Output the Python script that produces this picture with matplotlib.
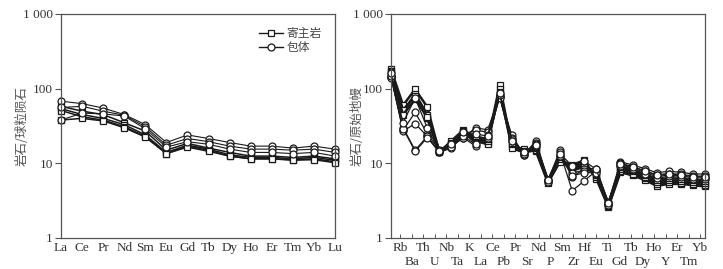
import matplotlib
matplotlib.use("Agg")
import matplotlib.pyplot as plt
import matplotlib.transforms as mtransforms
import numpy as np

# ---------------- data ----------------
ree = ["La", "Ce", "Pr", "Nd", "Sm", "Eu", "Gd", "Tb", "Dy", "Ho", "Er", "Tm", "Yb", "Lu"]

ree_host = [
    [58, 50, 45, 35, 27, 15.0, 18.5, 16.0, 14.0, 12.5, 12.5, 12.0, 12.5, 11.5],
    [54, 45, 40, 33, 24, 14.0, 17.5, 15.5, 13.0, 12.0, 12.0, 11.5, 12.0, 11.0],
    [51, 42, 38, 31, 23, 13.5, 17.0, 15.0, 12.5, 11.5, 11.5, 11.2, 11.5, 10.5],
    [38, 40, 37, 30, 22.5, 13.5, 16.5, 14.5, 12.5, 11.5, 11.5, 11.0, 11.2, 10.2],
]
ree_incl = [
    [68, 63, 55, 45, 33, 19.0, 24.0, 21.5, 19.0, 17.0, 17.0, 16.0, 17.0, 15.5],
    [56, 58, 50, 44, 31, 17.5, 21.5, 19.5, 17.0, 15.5, 15.5, 15.0, 15.5, 14.0],
    [38, 47, 46, 43, 29, 16.5, 19.5, 18.0, 15.5, 14.0, 14.0, 13.5, 14.0, 12.5],
]

spider = ["Rb", "Ba", "Th", "U", "Nb", "Ta", "K", "La", "Ce", "Pb", "Pr", "Sr", "Nd", "P",
          "Sm", "Zr", "Hf", "Eu", "Ti", "Gd", "Tb", "Dy", "Ho", "Y", "Er", "Tm", "Yb"]

spider_host = [
    [182, 60, 98, 57, 14.0, 20, 28, 22, 19, 112, 17, 15.5, 14.5, 5.5, 11.0, 9.5, 11.0, 6.2, 2.6, 7.6, 6.9, 6.0, 5.0, 5.3, 5.3, 5.1, 4.9],
    [175, 48, 85, 45, 14.5, 19, 27, 20, 18, 100, 16, 14.0, 15.0, 5.6, 10.5, 9.0, 10.0, 6.5, 2.7, 8.0, 7.3, 6.3, 5.3, 5.6, 5.5, 5.3, 5.1],
    [165, 52, 80, 40, 14.0, 18, 26, 19, 20, 90, 18, 14.5, 16.0, 5.8, 11.5, 8.5, 9.5, 7.0, 2.8, 8.5, 7.8, 6.6, 5.6, 5.9, 5.8, 5.6, 5.4],
    [155, 45, 72, 42, 15.0, 17, 25, 23, 21, 85, 19, 13.5, 16.5, 6.0, 12.0, 8.0, 9.0, 7.3, 2.9, 9.0, 8.2, 7.0, 6.0, 6.3, 6.2, 5.9, 5.8],
]
spider_incl = [
    [150, 28, 48, 25, 15.0, 17, 22, 30, 28, 80, 24, 13.0, 20.0, 6.0, 15.0, 6.5, 8.5, 8.5, 3.0, 10.5, 9.5, 8.5, 7.5, 7.8, 7.6, 7.2, 7.2],
    [145, 27, 34, 23, 14.0, 16, 24, 28, 26, 78, 22, 13.0, 19.0, 5.9, 14.0, 4.3, 5.8, 8.0, 2.9, 10.0, 9.0, 8.0, 7.0, 7.3, 7.1, 6.8, 6.7],
    [140, 30, 15, 23, 14.0, 17, 22, 17, 24, 75, 21, 14.0, 18.0, 5.8, 13.0, 7.5, 8.0, 7.8, 2.8, 9.6, 8.7, 7.6, 6.6, 7.0, 6.8, 6.4, 6.4],
    [148, 29, 14.5, 22, 14.5, 16.5, 23, 18, 22, 82, 20, 13.5, 17.0, 5.7, 12.5, 6.8, 7.5, 7.5, 2.75, 9.2, 8.4, 7.3, 6.3, 6.7, 6.5, 6.1, 6.1],
    [160, 35, 75, 30, 14.5, 18, 26, 25, 23, 88, 20, 14.0, 17.5, 5.9, 13.5, 9.2, 10.7, 8.3, 2.9, 9.8, 9.0, 7.9, 6.9, 7.2, 7.0, 6.6, 6.6],
]

ylabels = ["1", "10", "100", "1 000"]
yticks = [1, 10, 100, 1000]

# ---------------- style ----------------
serif = "Liberation Serif"
cjk = ["Noto Sans CJK SC", "DejaVu Sans"]
txt_col = "#333333"
line_col = "#1a1a1a"
spine_col = "#555555"

fig = plt.figure(figsize=(7.23, 2.69), dpi=100)
ax1 = fig.add_axes([61 / 723, 31 / 269, 274 / 723, 224 / 269])
ax2 = fig.add_axes([391 / 723, 31 / 269, 314 / 723, 224 / 269])

def style_axis(ax, ylabel, labx):
    ax.set_yscale("log")
    ax.set_ylim(1, 1000)
    ax.set_yticks(yticks)
    ax.set_yticklabels(ylabels, fontfamily=serif, fontsize=9.5, color=txt_col)
    ax.yaxis.set_minor_locator(matplotlib.ticker.NullLocator())
    ax.tick_params(axis="y", direction="out", length=4, width=0.8, color=spine_col, pad=2)
    for s in ax.spines.values():
        s.set_color(spine_col)
        s.set_linewidth(0.9)
    ax.set_ylabel(ylabel, family=cjk, fontsize=9, color="#555555")
    ax.yaxis.set_label_coords(labx, 0.5)

mk = dict(markerfacecolor="white", markeredgecolor=line_col, markersize=5, markeredgewidth=0.9)

# left panel: chondrite normalised REE
x1 = np.arange(len(ree))
for row in ree_host:
    ax1.plot(x1, row, color=line_col, lw=1.1, marker="s", clip_on=False, **mk)
for row in ree_incl:
    ax1.plot(x1, row, color=line_col, lw=0.8, marker="o", clip_on=False, **mk)
ax1.set_xlim(0, len(ree) - 1)
ax1.set_xticks(x1)
ax1.set_xticklabels(ree, fontfamily=serif, fontsize=9.5, color=txt_col)
ax1.tick_params(axis="x", direction="in", length=0, pad=3)
style_axis(ax1, "岩石/球粒陨石", (29 - 61) / 274)

# legend
h1, = ax1.plot([], [], color=line_col, lw=1.0, marker="s", **mk)
h2, = ax1.plot([], [], color=line_col, lw=1.0, marker="o", **mk)
leg = ax1.legend([h1, h2], ["寄主岩", "包体"], loc="upper right", frameon=False,
                 prop={"family": cjk, "size": 8.5}, handlelength=2.0, handletextpad=0.3,
                 labelspacing=0.1, borderaxespad=0.5, bbox_to_anchor=(0.99, 0.99))
for t in leg.get_texts():
    t.set_color("#444444")

# right panel: primitive mantle spider
x2 = np.arange(len(spider))
for row in spider_host:
    ax2.plot(x2, row, color=line_col, lw=1.8, marker="s", clip_on=False, **mk)
for row in spider_incl:
    ax2.plot(x2, row, color=line_col, lw=0.9, marker="o", clip_on=False, **mk)
ax2.set_xlim(0, len(spider) - 1)
tickpos = np.linspace(0.75, len(spider) - 1 - 0.4, len(spider))
ax2.set_xticks(tickpos)
ax2.set_xticklabels([])
ax2.tick_params(axis="x", direction="in", length=3, width=0.7, color=spine_col)
trans = mtransforms.blended_transform_factory(ax2.transData, ax2.transAxes)
for i, (xp, name) in enumerate(zip(tickpos, spider)):
    yoff = -0.018 if i % 2 == 0 else -0.080
    ax2.text(xp, yoff, name, transform=trans, ha="center", va="top",
             fontfamily=serif, fontsize=9.5, color=txt_col)
style_axis(ax2, "岩石/原始地幔", (364 - 391) / 314)

fig.savefig("out.png", dpi=100)
